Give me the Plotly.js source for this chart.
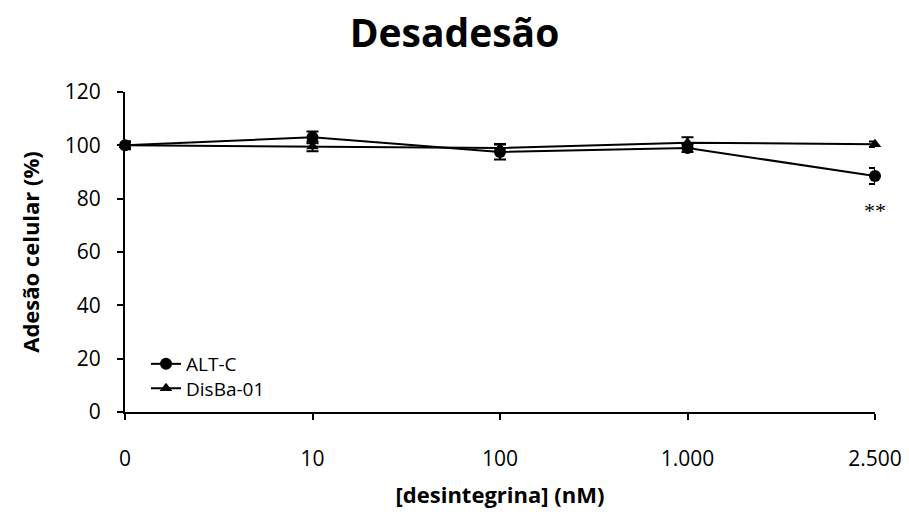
<!DOCTYPE html>
<html>
<head>
<meta charset="utf-8">
<script src="https://cdn.plot.ly/plotly-3.0.1.min.js"></script>
<style>
  html, body { margin: 0; padding: 0; background: #fff; }
  #chart { width: 909px; height: 520px; }
</style>
</head>
<body>
<div id="chart"></div>
<script>
// Concentrações de desintegrina (nM), eixo categórico
const concentracoes = ['0', '10', '100', '1.000', '2.500'];

// Adesão celular (%) e erro padrão de cada desintegrina
const altC = [100, 103, 97.5, 99, 88.5];
const altCErro = [1.5, 2.2, 2.8, 1.5, 3];
const disba01 = [100, 99.6, 99, 101, 100.4];
const disba01Erro = [1.2, 1.8, 1.5, 2, 1];

// Marcação de significância
const signifTexto = '**';
const signifCategoria = '2.500';
const signifValor = 75.5;

const fonte = '"Open Sans", sans-serif';

const traces = [
  {
    x: concentracoes, y: altC, name: 'ALT-C', legend: 'legend',
    type: 'scatter', mode: 'lines+markers',
    line: { color: '#000', width: 2 },
    marker: { symbol: 'circle', size: 12, color: '#000' },
    error_y: { type: 'data', array: altCErro, visible: true, color: '#000', thickness: 2, width: 6 },
    cliponaxis: false
  },
  {
    x: concentracoes, y: disba01, name: 'DisBa-01', legend: 'legend2',
    type: 'scatter', mode: 'lines+markers',
    line: { color: '#000', width: 2 },
    marker: { symbol: 'triangle-up', size: 11, color: '#000' },
    error_y: { type: 'data', array: disba01Erro, visible: true, color: '#000', thickness: 2, width: 6 },
    cliponaxis: false
  }
];

const legendaBase = {
  xanchor: 'left', yanchor: 'middle',
  bgcolor: 'rgba(0,0,0,0)', font: { family: fonte, size: 19, color: '#000' }
};

const layout = {
  width: 909, height: 520,
  paper_bgcolor: '#fff', plot_bgcolor: '#fff',
  margin: { l: 125, r: 34, t: 92, b: 108 },
  font: { family: fonte, size: 21, color: '#000' },
  title: {
    text: '<b>Desadesão</b>',
    font: { family: fonte, size: 39, color: '#000' },
    x: 0.5, xanchor: 'center', y: 0.935, yanchor: 'middle'
  },
  showlegend: true,
  legend: Object.assign({ x: 0.028, y: 0.15 }, legendaBase),
  legend2: Object.assign({ x: 0.028, y: 0.074 }, legendaBase),
  xaxis: {
    type: 'category', range: [0, concentracoes.length - 1],
    showline: true, linecolor: '#000', linewidth: 2,
    ticks: 'outside', ticklen: 6, tickwidth: 2, tickcolor: '#000',
    showgrid: false, zeroline: false,
    ticklabelstandoff: 21,
    tickfont: { family: fonte, size: 21 },
    title: { text: '<b>[desintegrina] (nM)</b>', font: { family: fonte, size: 22 }, standoff: 16 }
  },
  yaxis: {
    range: [0, 120], dtick: 20,
    showline: true, linecolor: '#000', linewidth: 2,
    ticks: 'outside', ticklen: 6, tickwidth: 2, tickcolor: '#000',
    showgrid: false, zeroline: false,
    ticklabelstandoff: 12,
    tickfont: { family: fonte, size: 21 },
    title: { text: '<b>Adesão celular (%)</b>', font: { family: fonte, size: 22 }, standoff: 19 }
  },
  annotations: [{
    x: concentracoes.indexOf(signifCategoria), y: signifValor, xref: 'x', yref: 'y',
    text: signifTexto, showarrow: false,
    font: { family: '"Liberation Serif", serif', size: 22, color: '#000' }
  }]
};

Plotly.newPlot('chart', traces, layout, { displayModeBar: false, staticPlot: true });
</script>
</body>
</html>
